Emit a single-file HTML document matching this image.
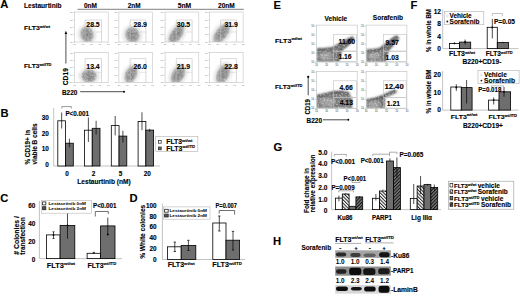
<!DOCTYPE html>
<html><head><meta charset="utf-8"><title>Figure</title>
<style>
html,body{margin:0;padding:0;background:#fff;width:520px;height:296px;overflow:hidden}
svg{display:block}
.tk{stroke:none;fill:#333;font-weight:normal}
.tk2{stroke:none;fill:#777;font-weight:normal}
text{font-family:"Liberation Sans",sans-serif;font-weight:bold;fill:#000;stroke:#000;stroke-width:0.12px;paint-order:stroke}
</style></head><body>
<svg width="520" height="296" viewBox="0 0 520 296">
<defs>
<radialGradient id="gblob"><stop offset="0" stop-color="#7a7a7a"/><stop offset="0.6" stop-color="#8e8e8e"/><stop offset="0.9" stop-color="#a8a8a8" stop-opacity="0.8"/><stop offset="1" stop-color="#c8c8c8" stop-opacity="0.4"/></radialGradient>
<filter id="blur1" x="-50%" y="-50%" width="200%" height="200%"><feGaussianBlur stdDeviation="0.8"/></filter>
<filter id="blur05" x="-20%" y="-50%" width="140%" height="200%"><feGaussianBlur stdDeviation="0.5"/></filter>
<filter id="grain" x="-30%" y="-30%" width="160%" height="160%"><feGaussianBlur in="SourceGraphic" stdDeviation="0.7" result="b"/><feTurbulence type="fractalNoise" baseFrequency="0.6" numOctaves="2" seed="7" result="n"/><feColorMatrix in="n" type="matrix" values="0 0 0 0 0  0 0 0 0 0  0 0 0 0 0  0 0 0 1.3 0.2" result="na"/><feComposite in="b" in2="na" operator="in" result="g"/><feGaussianBlur in="g" stdDeviation="0.3" result="g2"/><feMerge><feMergeNode in="g2"/></feMerge></filter>
<filter id="grainE" x="-10%" y="-10%" width="120%" height="120%"><feGaussianBlur in="SourceGraphic" stdDeviation="0.8" result="b"/><feTurbulence type="fractalNoise" baseFrequency="0.55" numOctaves="2" seed="3" result="n"/><feColorMatrix in="n" type="matrix" values="0 0 0 0 0  0 0 0 0 0  0 0 0 0 0  0 0 0 1.1 0.4" result="na"/><feComposite in="b" in2="na" operator="in" result="g"/><feGaussianBlur in="g" stdDeviation="0.3"/></filter>
<filter id="blur2" x="-20%" y="-20%" width="140%" height="140%"><feGaussianBlur stdDeviation="1.1"/></filter>
<pattern id="hl" width="2.4" height="2.4" patternUnits="userSpaceOnUse" patternTransform="rotate(-45)"><rect width="2.4" height="2.4" fill="#fff"/><rect width="1.0" height="2.4" fill="#222"/></pattern>
<pattern id="hd" width="2.4" height="2.4" patternUnits="userSpaceOnUse" patternTransform="rotate(45)"><rect width="2.4" height="2.4" fill="#777"/><rect width="1.0" height="2.4" fill="#111"/></pattern>
</defs>
<rect width="520" height="296" fill="#fff"/>
<text x="0.30" y="8.30" font-size="11.2">A</text>
<text x="0.50" y="117.20" font-size="11.2">B</text>
<text x="0.30" y="201.60" font-size="11.2">C</text>
<text x="129.40" y="201.50" font-size="11.2">D</text>
<text x="273.60" y="9.20" font-size="11.2">E</text>
<text x="410.60" y="9.30" font-size="11.2">F</text>
<text x="273.40" y="151.40" font-size="11.2">G</text>
<text x="273.00" y="244.60" font-size="11.2">H</text>
<text x="24.00" y="7.50" font-size="6.6" textLength="37.5" lengthAdjust="spacingAndGlyphs">Lestaurtinib</text>
<text x="84.00" y="7.60" font-size="6.8" textLength="13" lengthAdjust="spacingAndGlyphs">0nM</text>
<text x="127.80" y="7.60" font-size="6.8" textLength="12.8" lengthAdjust="spacingAndGlyphs">2nM</text>
<text x="177.70" y="7.60" font-size="6.8" textLength="13.5" lengthAdjust="spacingAndGlyphs">5nM</text>
<text x="218.00" y="7.60" font-size="6.8" textLength="16.8" lengthAdjust="spacingAndGlyphs">20nM</text>
<line x1="77.50" y1="9.40" x2="243.80" y2="9.40" stroke="#999" stroke-width="1.4"/>
<text x="24.00" y="30.00" font-size="6.2" textLength="26" lengthAdjust="spacingAndGlyphs">FLT3<tspan font-size="3.72" dy="-2.36">wt/wt</tspan></text>
<text x="24.00" y="68.40" font-size="6.2" textLength="27.5" lengthAdjust="spacingAndGlyphs">FLT3<tspan font-size="3.72" dy="-2.36">wt/ITD</tspan></text>
<clipPath id="cA00"><rect x="74.50" y="12.00" width="33.7" height="30"/></clipPath><g clip-path="url(#cA00)">
<ellipse cx="87.00" cy="34.50" rx="9.42" ry="10.14" transform="rotate(-15 87.00 34.50)" fill="#dedede" opacity="0.75" filter="url(#blur1)"/>
<ellipse cx="87.00" cy="34.50" rx="7.02" ry="8.42" transform="rotate(-15 87.00 34.50)" fill="url(#gblob)" filter="url(#grain)"/>
</g>
<rect x="74.50" y="12.00" width="33.70" height="30.00" fill="none" stroke="#c4c4c4" stroke-width="0.6"/>
<line x1="73.10" y1="12.50" x2="74.50" y2="12.50" stroke="#c8c8c8" stroke-width="0.5"/>
<text x="72.70" y="13.30" font-size="2.4" text-anchor="end" class="tk2">10</text>
<line x1="74.50" y1="42.00" x2="74.50" y2="43.00" stroke="#c8c8c8" stroke-width="0.5"/>
<text x="74.50" y="45.20" font-size="2.4" text-anchor="middle" class="tk2">10</text>
<line x1="73.10" y1="19.88" x2="74.50" y2="19.88" stroke="#c8c8c8" stroke-width="0.5"/>
<text x="72.70" y="20.68" font-size="2.4" text-anchor="end" class="tk2">10</text>
<line x1="82.92" y1="42.00" x2="82.92" y2="43.00" stroke="#c8c8c8" stroke-width="0.5"/>
<text x="82.92" y="45.20" font-size="2.4" text-anchor="middle" class="tk2">10</text>
<line x1="73.10" y1="27.25" x2="74.50" y2="27.25" stroke="#c8c8c8" stroke-width="0.5"/>
<text x="72.70" y="28.05" font-size="2.4" text-anchor="end" class="tk2">10</text>
<line x1="91.35" y1="42.00" x2="91.35" y2="43.00" stroke="#c8c8c8" stroke-width="0.5"/>
<text x="91.35" y="45.20" font-size="2.4" text-anchor="middle" class="tk2">10</text>
<line x1="73.10" y1="34.62" x2="74.50" y2="34.62" stroke="#c8c8c8" stroke-width="0.5"/>
<text x="72.70" y="35.42" font-size="2.4" text-anchor="end" class="tk2">10</text>
<line x1="99.78" y1="42.00" x2="99.78" y2="43.00" stroke="#c8c8c8" stroke-width="0.5"/>
<text x="99.78" y="45.20" font-size="2.4" text-anchor="middle" class="tk2">10</text>
<line x1="73.10" y1="42.00" x2="74.50" y2="42.00" stroke="#c8c8c8" stroke-width="0.5"/>
<text x="72.70" y="42.80" font-size="2.4" text-anchor="end" class="tk2">10</text>
<line x1="108.20" y1="42.00" x2="108.20" y2="43.00" stroke="#c8c8c8" stroke-width="0.5"/>
<text x="108.20" y="45.20" font-size="2.4" text-anchor="middle" class="tk2">10</text>
<polyline points="85.10,42.00 85.10,20.00 101.50,20.00 101.50,42.00" fill="none" stroke="#c0c0c0" stroke-width="0.6"/>
<line x1="95.50" y1="32.00" x2="101.50" y2="32.00" stroke="#c8c8c8" stroke-width="0.5"/>
<text x="86.30" y="27.00" font-size="7.3" textLength="13.4" lengthAdjust="spacingAndGlyphs">28.5</text>
<clipPath id="cA01"><rect x="118.90" y="12.00" width="33.7" height="30"/></clipPath><g clip-path="url(#cA01)">
<ellipse cx="132.40" cy="35.00" rx="10.15" ry="10.14" transform="rotate(-15 132.40 35.00)" fill="#dedede" opacity="0.75" filter="url(#blur1)"/>
<ellipse cx="132.40" cy="35.00" rx="7.56" ry="8.42" transform="rotate(-15 132.40 35.00)" fill="url(#gblob)" filter="url(#grain)"/>
</g>
<rect x="118.90" y="12.00" width="33.70" height="30.00" fill="none" stroke="#c4c4c4" stroke-width="0.6"/>
<line x1="117.50" y1="12.50" x2="118.90" y2="12.50" stroke="#c8c8c8" stroke-width="0.5"/>
<text x="117.10" y="13.30" font-size="2.4" text-anchor="end" class="tk2">10</text>
<line x1="118.90" y1="42.00" x2="118.90" y2="43.00" stroke="#c8c8c8" stroke-width="0.5"/>
<text x="118.90" y="45.20" font-size="2.4" text-anchor="middle" class="tk2">10</text>
<line x1="117.50" y1="19.88" x2="118.90" y2="19.88" stroke="#c8c8c8" stroke-width="0.5"/>
<text x="117.10" y="20.68" font-size="2.4" text-anchor="end" class="tk2">10</text>
<line x1="127.33" y1="42.00" x2="127.33" y2="43.00" stroke="#c8c8c8" stroke-width="0.5"/>
<text x="127.33" y="45.20" font-size="2.4" text-anchor="middle" class="tk2">10</text>
<line x1="117.50" y1="27.25" x2="118.90" y2="27.25" stroke="#c8c8c8" stroke-width="0.5"/>
<text x="117.10" y="28.05" font-size="2.4" text-anchor="end" class="tk2">10</text>
<line x1="135.75" y1="42.00" x2="135.75" y2="43.00" stroke="#c8c8c8" stroke-width="0.5"/>
<text x="135.75" y="45.20" font-size="2.4" text-anchor="middle" class="tk2">10</text>
<line x1="117.50" y1="34.62" x2="118.90" y2="34.62" stroke="#c8c8c8" stroke-width="0.5"/>
<text x="117.10" y="35.42" font-size="2.4" text-anchor="end" class="tk2">10</text>
<line x1="144.18" y1="42.00" x2="144.18" y2="43.00" stroke="#c8c8c8" stroke-width="0.5"/>
<text x="144.18" y="45.20" font-size="2.4" text-anchor="middle" class="tk2">10</text>
<line x1="117.50" y1="42.00" x2="118.90" y2="42.00" stroke="#c8c8c8" stroke-width="0.5"/>
<text x="117.10" y="42.80" font-size="2.4" text-anchor="end" class="tk2">10</text>
<line x1="152.60" y1="42.00" x2="152.60" y2="43.00" stroke="#c8c8c8" stroke-width="0.5"/>
<text x="152.60" y="45.20" font-size="2.4" text-anchor="middle" class="tk2">10</text>
<polyline points="130.10,42.00 130.10,20.00 145.90,20.00 145.90,42.00" fill="none" stroke="#c0c0c0" stroke-width="0.6"/>
<line x1="139.90" y1="32.00" x2="145.90" y2="32.00" stroke="#c8c8c8" stroke-width="0.5"/>
<text x="133.50" y="27.00" font-size="7.3" textLength="13.4" lengthAdjust="spacingAndGlyphs">28.9</text>
<clipPath id="cA02"><rect x="165.10" y="12.00" width="33.7" height="30"/></clipPath><g clip-path="url(#cA02)">
<ellipse cx="176.40" cy="34.30" rx="8.12" ry="13.65" transform="rotate(35 176.40 34.30)" fill="#dedede" opacity="0.75" filter="url(#blur1)"/>
<ellipse cx="176.40" cy="34.30" rx="6.05" ry="11.34" transform="rotate(35 176.40 34.30)" fill="url(#gblob)" filter="url(#grain)"/>
</g>
<rect x="165.10" y="12.00" width="33.70" height="30.00" fill="none" stroke="#c4c4c4" stroke-width="0.6"/>
<line x1="163.70" y1="12.50" x2="165.10" y2="12.50" stroke="#c8c8c8" stroke-width="0.5"/>
<text x="163.30" y="13.30" font-size="2.4" text-anchor="end" class="tk2">10</text>
<line x1="165.10" y1="42.00" x2="165.10" y2="43.00" stroke="#c8c8c8" stroke-width="0.5"/>
<text x="165.10" y="45.20" font-size="2.4" text-anchor="middle" class="tk2">10</text>
<line x1="163.70" y1="19.88" x2="165.10" y2="19.88" stroke="#c8c8c8" stroke-width="0.5"/>
<text x="163.30" y="20.68" font-size="2.4" text-anchor="end" class="tk2">10</text>
<line x1="173.53" y1="42.00" x2="173.53" y2="43.00" stroke="#c8c8c8" stroke-width="0.5"/>
<text x="173.53" y="45.20" font-size="2.4" text-anchor="middle" class="tk2">10</text>
<line x1="163.70" y1="27.25" x2="165.10" y2="27.25" stroke="#c8c8c8" stroke-width="0.5"/>
<text x="163.30" y="28.05" font-size="2.4" text-anchor="end" class="tk2">10</text>
<line x1="181.95" y1="42.00" x2="181.95" y2="43.00" stroke="#c8c8c8" stroke-width="0.5"/>
<text x="181.95" y="45.20" font-size="2.4" text-anchor="middle" class="tk2">10</text>
<line x1="163.70" y1="34.62" x2="165.10" y2="34.62" stroke="#c8c8c8" stroke-width="0.5"/>
<text x="163.30" y="35.42" font-size="2.4" text-anchor="end" class="tk2">10</text>
<line x1="190.38" y1="42.00" x2="190.38" y2="43.00" stroke="#c8c8c8" stroke-width="0.5"/>
<text x="190.38" y="45.20" font-size="2.4" text-anchor="middle" class="tk2">10</text>
<line x1="163.70" y1="42.00" x2="165.10" y2="42.00" stroke="#c8c8c8" stroke-width="0.5"/>
<text x="163.30" y="42.80" font-size="2.4" text-anchor="end" class="tk2">10</text>
<line x1="198.80" y1="42.00" x2="198.80" y2="43.00" stroke="#c8c8c8" stroke-width="0.5"/>
<text x="198.80" y="45.20" font-size="2.4" text-anchor="middle" class="tk2">10</text>
<polyline points="176.30,42.00 176.30,20.00 192.10,20.00 192.10,42.00" fill="none" stroke="#c0c0c0" stroke-width="0.6"/>
<line x1="186.10" y1="32.00" x2="192.10" y2="32.00" stroke="#c8c8c8" stroke-width="0.5"/>
<text x="176.80" y="27.00" font-size="7.3" textLength="13.4" lengthAdjust="spacingAndGlyphs">30.5</text>
<clipPath id="cA03"><rect x="209.40" y="12.00" width="33.7" height="30"/></clipPath><g clip-path="url(#cA03)">
<ellipse cx="221.50" cy="33.50" rx="8.41" ry="14.30" transform="rotate(38 221.50 33.50)" fill="#dedede" opacity="0.75" filter="url(#blur1)"/>
<ellipse cx="221.50" cy="33.50" rx="6.26" ry="11.88" transform="rotate(38 221.50 33.50)" fill="url(#gblob)" filter="url(#grain)"/>
</g>
<rect x="209.40" y="12.00" width="33.70" height="30.00" fill="none" stroke="#c4c4c4" stroke-width="0.6"/>
<line x1="208.00" y1="12.50" x2="209.40" y2="12.50" stroke="#c8c8c8" stroke-width="0.5"/>
<text x="207.60" y="13.30" font-size="2.4" text-anchor="end" class="tk2">10</text>
<line x1="209.40" y1="42.00" x2="209.40" y2="43.00" stroke="#c8c8c8" stroke-width="0.5"/>
<text x="209.40" y="45.20" font-size="2.4" text-anchor="middle" class="tk2">10</text>
<line x1="208.00" y1="19.88" x2="209.40" y2="19.88" stroke="#c8c8c8" stroke-width="0.5"/>
<text x="207.60" y="20.68" font-size="2.4" text-anchor="end" class="tk2">10</text>
<line x1="217.83" y1="42.00" x2="217.83" y2="43.00" stroke="#c8c8c8" stroke-width="0.5"/>
<text x="217.83" y="45.20" font-size="2.4" text-anchor="middle" class="tk2">10</text>
<line x1="208.00" y1="27.25" x2="209.40" y2="27.25" stroke="#c8c8c8" stroke-width="0.5"/>
<text x="207.60" y="28.05" font-size="2.4" text-anchor="end" class="tk2">10</text>
<line x1="226.25" y1="42.00" x2="226.25" y2="43.00" stroke="#c8c8c8" stroke-width="0.5"/>
<text x="226.25" y="45.20" font-size="2.4" text-anchor="middle" class="tk2">10</text>
<line x1="208.00" y1="34.62" x2="209.40" y2="34.62" stroke="#c8c8c8" stroke-width="0.5"/>
<text x="207.60" y="35.42" font-size="2.4" text-anchor="end" class="tk2">10</text>
<line x1="234.68" y1="42.00" x2="234.68" y2="43.00" stroke="#c8c8c8" stroke-width="0.5"/>
<text x="234.68" y="45.20" font-size="2.4" text-anchor="middle" class="tk2">10</text>
<line x1="208.00" y1="42.00" x2="209.40" y2="42.00" stroke="#c8c8c8" stroke-width="0.5"/>
<text x="207.60" y="42.80" font-size="2.4" text-anchor="end" class="tk2">10</text>
<line x1="243.10" y1="42.00" x2="243.10" y2="43.00" stroke="#c8c8c8" stroke-width="0.5"/>
<text x="243.10" y="45.20" font-size="2.4" text-anchor="middle" class="tk2">10</text>
<polyline points="220.70,42.00 220.70,20.00 236.40,20.00 236.40,42.00" fill="none" stroke="#c0c0c0" stroke-width="0.6"/>
<line x1="230.40" y1="32.00" x2="236.40" y2="32.00" stroke="#c8c8c8" stroke-width="0.5"/>
<text x="224.40" y="27.00" font-size="7.3" textLength="13.4" lengthAdjust="spacingAndGlyphs">31.9</text>
<clipPath id="cA10"><rect x="74.50" y="52.30" width="33.7" height="30"/></clipPath><g clip-path="url(#cA10)">
<ellipse cx="89.00" cy="76.00" rx="10.88" ry="8.45" transform="rotate(0 89.00 76.00)" fill="#dedede" opacity="0.75" filter="url(#blur1)"/>
<ellipse cx="89.00" cy="76.00" rx="8.10" ry="7.02" transform="rotate(0 89.00 76.00)" fill="url(#gblob)" filter="url(#grain)"/>
</g>
<rect x="74.50" y="52.30" width="33.70" height="30.00" fill="none" stroke="#c4c4c4" stroke-width="0.6"/>
<line x1="73.10" y1="52.80" x2="74.50" y2="52.80" stroke="#c8c8c8" stroke-width="0.5"/>
<text x="72.70" y="53.60" font-size="2.4" text-anchor="end" class="tk2">10</text>
<line x1="74.50" y1="82.30" x2="74.50" y2="83.30" stroke="#c8c8c8" stroke-width="0.5"/>
<text x="74.50" y="85.50" font-size="2.4" text-anchor="middle" class="tk2">10</text>
<line x1="73.10" y1="60.17" x2="74.50" y2="60.17" stroke="#c8c8c8" stroke-width="0.5"/>
<text x="72.70" y="60.97" font-size="2.4" text-anchor="end" class="tk2">10</text>
<line x1="82.92" y1="82.30" x2="82.92" y2="83.30" stroke="#c8c8c8" stroke-width="0.5"/>
<text x="82.92" y="85.50" font-size="2.4" text-anchor="middle" class="tk2">10</text>
<line x1="73.10" y1="67.55" x2="74.50" y2="67.55" stroke="#c8c8c8" stroke-width="0.5"/>
<text x="72.70" y="68.35" font-size="2.4" text-anchor="end" class="tk2">10</text>
<line x1="91.35" y1="82.30" x2="91.35" y2="83.30" stroke="#c8c8c8" stroke-width="0.5"/>
<text x="91.35" y="85.50" font-size="2.4" text-anchor="middle" class="tk2">10</text>
<line x1="73.10" y1="74.92" x2="74.50" y2="74.92" stroke="#c8c8c8" stroke-width="0.5"/>
<text x="72.70" y="75.72" font-size="2.4" text-anchor="end" class="tk2">10</text>
<line x1="99.78" y1="82.30" x2="99.78" y2="83.30" stroke="#c8c8c8" stroke-width="0.5"/>
<text x="99.78" y="85.50" font-size="2.4" text-anchor="middle" class="tk2">10</text>
<line x1="73.10" y1="82.30" x2="74.50" y2="82.30" stroke="#c8c8c8" stroke-width="0.5"/>
<text x="72.70" y="83.10" font-size="2.4" text-anchor="end" class="tk2">10</text>
<line x1="108.20" y1="82.30" x2="108.20" y2="83.30" stroke="#c8c8c8" stroke-width="0.5"/>
<text x="108.20" y="85.50" font-size="2.4" text-anchor="middle" class="tk2">10</text>
<polyline points="85.10,82.30 85.10,58.60 101.50,58.60 101.50,82.30" fill="none" stroke="#c0c0c0" stroke-width="0.6"/>
<line x1="95.50" y1="72.30" x2="101.50" y2="72.30" stroke="#c8c8c8" stroke-width="0.5"/>
<text x="86.30" y="68.70" font-size="7.3" textLength="13.4" lengthAdjust="spacingAndGlyphs">13.4</text>
<clipPath id="cA11"><rect x="118.90" y="52.30" width="33.7" height="30"/></clipPath><g clip-path="url(#cA11)">
<ellipse cx="131.00" cy="74.50" rx="8.12" ry="11.70" transform="rotate(25 131.00 74.50)" fill="#dedede" opacity="0.75" filter="url(#blur1)"/>
<ellipse cx="131.00" cy="74.50" rx="6.05" ry="9.72" transform="rotate(25 131.00 74.50)" fill="url(#gblob)" filter="url(#grain)"/>
</g>
<rect x="118.90" y="52.30" width="33.70" height="30.00" fill="none" stroke="#c4c4c4" stroke-width="0.6"/>
<line x1="117.50" y1="52.80" x2="118.90" y2="52.80" stroke="#c8c8c8" stroke-width="0.5"/>
<text x="117.10" y="53.60" font-size="2.4" text-anchor="end" class="tk2">10</text>
<line x1="118.90" y1="82.30" x2="118.90" y2="83.30" stroke="#c8c8c8" stroke-width="0.5"/>
<text x="118.90" y="85.50" font-size="2.4" text-anchor="middle" class="tk2">10</text>
<line x1="117.50" y1="60.17" x2="118.90" y2="60.17" stroke="#c8c8c8" stroke-width="0.5"/>
<text x="117.10" y="60.97" font-size="2.4" text-anchor="end" class="tk2">10</text>
<line x1="127.33" y1="82.30" x2="127.33" y2="83.30" stroke="#c8c8c8" stroke-width="0.5"/>
<text x="127.33" y="85.50" font-size="2.4" text-anchor="middle" class="tk2">10</text>
<line x1="117.50" y1="67.55" x2="118.90" y2="67.55" stroke="#c8c8c8" stroke-width="0.5"/>
<text x="117.10" y="68.35" font-size="2.4" text-anchor="end" class="tk2">10</text>
<line x1="135.75" y1="82.30" x2="135.75" y2="83.30" stroke="#c8c8c8" stroke-width="0.5"/>
<text x="135.75" y="85.50" font-size="2.4" text-anchor="middle" class="tk2">10</text>
<line x1="117.50" y1="74.92" x2="118.90" y2="74.92" stroke="#c8c8c8" stroke-width="0.5"/>
<text x="117.10" y="75.72" font-size="2.4" text-anchor="end" class="tk2">10</text>
<line x1="144.18" y1="82.30" x2="144.18" y2="83.30" stroke="#c8c8c8" stroke-width="0.5"/>
<text x="144.18" y="85.50" font-size="2.4" text-anchor="middle" class="tk2">10</text>
<line x1="117.50" y1="82.30" x2="118.90" y2="82.30" stroke="#c8c8c8" stroke-width="0.5"/>
<text x="117.10" y="83.10" font-size="2.4" text-anchor="end" class="tk2">10</text>
<line x1="152.60" y1="82.30" x2="152.60" y2="83.30" stroke="#c8c8c8" stroke-width="0.5"/>
<text x="152.60" y="85.50" font-size="2.4" text-anchor="middle" class="tk2">10</text>
<polyline points="130.10,82.30 130.10,58.60 145.90,58.60 145.90,82.30" fill="none" stroke="#c0c0c0" stroke-width="0.6"/>
<line x1="139.90" y1="72.30" x2="145.90" y2="72.30" stroke="#c8c8c8" stroke-width="0.5"/>
<text x="133.50" y="68.70" font-size="7.3" textLength="13.4" lengthAdjust="spacingAndGlyphs">26.0</text>
<clipPath id="cA12"><rect x="165.10" y="52.30" width="33.7" height="30"/></clipPath><g clip-path="url(#cA12)">
<ellipse cx="178.00" cy="75.00" rx="8.70" ry="12.35" transform="rotate(30 178.00 75.00)" fill="#dedede" opacity="0.75" filter="url(#blur1)"/>
<ellipse cx="178.00" cy="75.00" rx="6.48" ry="10.26" transform="rotate(30 178.00 75.00)" fill="url(#gblob)" filter="url(#grain)"/>
</g>
<rect x="165.10" y="52.30" width="33.70" height="30.00" fill="none" stroke="#c4c4c4" stroke-width="0.6"/>
<line x1="163.70" y1="52.80" x2="165.10" y2="52.80" stroke="#c8c8c8" stroke-width="0.5"/>
<text x="163.30" y="53.60" font-size="2.4" text-anchor="end" class="tk2">10</text>
<line x1="165.10" y1="82.30" x2="165.10" y2="83.30" stroke="#c8c8c8" stroke-width="0.5"/>
<text x="165.10" y="85.50" font-size="2.4" text-anchor="middle" class="tk2">10</text>
<line x1="163.70" y1="60.17" x2="165.10" y2="60.17" stroke="#c8c8c8" stroke-width="0.5"/>
<text x="163.30" y="60.97" font-size="2.4" text-anchor="end" class="tk2">10</text>
<line x1="173.53" y1="82.30" x2="173.53" y2="83.30" stroke="#c8c8c8" stroke-width="0.5"/>
<text x="173.53" y="85.50" font-size="2.4" text-anchor="middle" class="tk2">10</text>
<line x1="163.70" y1="67.55" x2="165.10" y2="67.55" stroke="#c8c8c8" stroke-width="0.5"/>
<text x="163.30" y="68.35" font-size="2.4" text-anchor="end" class="tk2">10</text>
<line x1="181.95" y1="82.30" x2="181.95" y2="83.30" stroke="#c8c8c8" stroke-width="0.5"/>
<text x="181.95" y="85.50" font-size="2.4" text-anchor="middle" class="tk2">10</text>
<line x1="163.70" y1="74.92" x2="165.10" y2="74.92" stroke="#c8c8c8" stroke-width="0.5"/>
<text x="163.30" y="75.72" font-size="2.4" text-anchor="end" class="tk2">10</text>
<line x1="190.38" y1="82.30" x2="190.38" y2="83.30" stroke="#c8c8c8" stroke-width="0.5"/>
<text x="190.38" y="85.50" font-size="2.4" text-anchor="middle" class="tk2">10</text>
<line x1="163.70" y1="82.30" x2="165.10" y2="82.30" stroke="#c8c8c8" stroke-width="0.5"/>
<text x="163.30" y="83.10" font-size="2.4" text-anchor="end" class="tk2">10</text>
<line x1="198.80" y1="82.30" x2="198.80" y2="83.30" stroke="#c8c8c8" stroke-width="0.5"/>
<text x="198.80" y="85.50" font-size="2.4" text-anchor="middle" class="tk2">10</text>
<polyline points="176.30,82.30 176.30,58.60 192.10,58.60 192.10,82.30" fill="none" stroke="#c0c0c0" stroke-width="0.6"/>
<line x1="186.10" y1="72.30" x2="192.10" y2="72.30" stroke="#c8c8c8" stroke-width="0.5"/>
<text x="176.80" y="68.70" font-size="7.3" textLength="13.4" lengthAdjust="spacingAndGlyphs">21.9</text>
<clipPath id="cA13"><rect x="209.40" y="52.30" width="33.7" height="30"/></clipPath><g clip-path="url(#cA13)">
<ellipse cx="223.00" cy="74.00" rx="8.70" ry="13.00" transform="rotate(25 223.00 74.00)" fill="#dedede" opacity="0.75" filter="url(#blur1)"/>
<ellipse cx="223.00" cy="74.00" rx="6.48" ry="10.80" transform="rotate(25 223.00 74.00)" fill="url(#gblob)" filter="url(#grain)"/>
</g>
<rect x="209.40" y="52.30" width="33.70" height="30.00" fill="none" stroke="#c4c4c4" stroke-width="0.6"/>
<line x1="208.00" y1="52.80" x2="209.40" y2="52.80" stroke="#c8c8c8" stroke-width="0.5"/>
<text x="207.60" y="53.60" font-size="2.4" text-anchor="end" class="tk2">10</text>
<line x1="209.40" y1="82.30" x2="209.40" y2="83.30" stroke="#c8c8c8" stroke-width="0.5"/>
<text x="209.40" y="85.50" font-size="2.4" text-anchor="middle" class="tk2">10</text>
<line x1="208.00" y1="60.17" x2="209.40" y2="60.17" stroke="#c8c8c8" stroke-width="0.5"/>
<text x="207.60" y="60.97" font-size="2.4" text-anchor="end" class="tk2">10</text>
<line x1="217.83" y1="82.30" x2="217.83" y2="83.30" stroke="#c8c8c8" stroke-width="0.5"/>
<text x="217.83" y="85.50" font-size="2.4" text-anchor="middle" class="tk2">10</text>
<line x1="208.00" y1="67.55" x2="209.40" y2="67.55" stroke="#c8c8c8" stroke-width="0.5"/>
<text x="207.60" y="68.35" font-size="2.4" text-anchor="end" class="tk2">10</text>
<line x1="226.25" y1="82.30" x2="226.25" y2="83.30" stroke="#c8c8c8" stroke-width="0.5"/>
<text x="226.25" y="85.50" font-size="2.4" text-anchor="middle" class="tk2">10</text>
<line x1="208.00" y1="74.92" x2="209.40" y2="74.92" stroke="#c8c8c8" stroke-width="0.5"/>
<text x="207.60" y="75.72" font-size="2.4" text-anchor="end" class="tk2">10</text>
<line x1="234.68" y1="82.30" x2="234.68" y2="83.30" stroke="#c8c8c8" stroke-width="0.5"/>
<text x="234.68" y="85.50" font-size="2.4" text-anchor="middle" class="tk2">10</text>
<line x1="208.00" y1="82.30" x2="209.40" y2="82.30" stroke="#c8c8c8" stroke-width="0.5"/>
<text x="207.60" y="83.10" font-size="2.4" text-anchor="end" class="tk2">10</text>
<line x1="243.10" y1="82.30" x2="243.10" y2="83.30" stroke="#c8c8c8" stroke-width="0.5"/>
<text x="243.10" y="85.50" font-size="2.4" text-anchor="middle" class="tk2">10</text>
<polyline points="220.70,82.30 220.70,58.60 236.40,58.60 236.40,82.30" fill="none" stroke="#c0c0c0" stroke-width="0.6"/>
<line x1="230.40" y1="72.30" x2="236.40" y2="72.30" stroke="#c8c8c8" stroke-width="0.5"/>
<text x="224.40" y="68.70" font-size="7.3" textLength="13.4" lengthAdjust="spacingAndGlyphs">22.8</text>
<line x1="65.90" y1="33.00" x2="65.90" y2="63.50" stroke="#000" stroke-width="0.7"/>
<polygon points="65.9,30.8 64.6,34 67.2,34" fill="#000"/>
<text x="67.60" y="76.70" font-size="6.4" text-anchor="middle" textLength="17.2" lengthAdjust="spacingAndGlyphs" transform="rotate(-90 67.6 76.7)">CD19</text>
<text x="62.00" y="95.30" font-size="6.4" textLength="15.3" lengthAdjust="spacingAndGlyphs">B220</text>
<line x1="80.20" y1="91.70" x2="123.50" y2="91.70" stroke="#000" stroke-width="0.7"/>
<circle cx="124" cy="91.7" r="1" fill="#000"/>
<line x1="53.70" y1="108.00" x2="53.70" y2="166.00" stroke="#b4b4b4" stroke-width="0.8"/>
<line x1="53.70" y1="166.00" x2="160.00" y2="166.00" stroke="#b4b4b4" stroke-width="0.8"/>
<text x="48.80" y="167.30" font-size="6.4" text-anchor="end">0</text>
<text x="48.80" y="151.43" font-size="6.4" text-anchor="end">10</text>
<text x="48.80" y="135.56" font-size="6.4" text-anchor="end">20</text>
<text x="48.80" y="119.69" font-size="6.4" text-anchor="end">30</text>
<rect x="57.80" y="120.80" width="7.75" height="45.20" fill="#fff" stroke="#000" stroke-width="0.8"/>
<rect x="65.55" y="143.20" width="7.75" height="22.80" fill="#6e6e6e" stroke="#000" stroke-width="0.8"/>
<line x1="61.67" y1="112.50" x2="61.67" y2="128.50" stroke="#000" stroke-width="0.7"/>
<line x1="69.42" y1="138.70" x2="69.42" y2="147.30" stroke="#000" stroke-width="0.7"/>
<rect x="84.50" y="130.20" width="7.75" height="35.80" fill="#fff" stroke="#000" stroke-width="0.8"/>
<rect x="92.25" y="128.30" width="7.75" height="37.70" fill="#6e6e6e" stroke="#000" stroke-width="0.8"/>
<line x1="88.38" y1="117.50" x2="88.38" y2="142.00" stroke="#000" stroke-width="0.7"/>
<line x1="96.12" y1="120.80" x2="96.12" y2="134.50" stroke="#000" stroke-width="0.7"/>
<rect x="111.30" y="125.60" width="7.75" height="40.40" fill="#fff" stroke="#000" stroke-width="0.8"/>
<rect x="119.05" y="136.10" width="7.75" height="29.90" fill="#6e6e6e" stroke="#000" stroke-width="0.8"/>
<line x1="115.17" y1="116.00" x2="115.17" y2="135.40" stroke="#000" stroke-width="0.7"/>
<line x1="122.92" y1="130.70" x2="122.92" y2="142.50" stroke="#000" stroke-width="0.7"/>
<rect x="138.10" y="121.40" width="7.75" height="44.60" fill="#fff" stroke="#000" stroke-width="0.8"/>
<rect x="145.85" y="130.10" width="7.75" height="35.90" fill="#6e6e6e" stroke="#000" stroke-width="0.8"/>
<line x1="141.97" y1="112.30" x2="141.97" y2="130.20" stroke="#000" stroke-width="0.7"/>
<line x1="149.72" y1="128.80" x2="149.72" y2="131.90" stroke="#000" stroke-width="0.7"/>
<text x="67.00" y="175.80" font-size="6.4" text-anchor="middle">0</text>
<text x="93.60" y="175.80" font-size="6.4" text-anchor="middle">2</text>
<text x="120.60" y="175.80" font-size="6.4" text-anchor="middle">5</text>
<text x="147.30" y="175.80" font-size="6.4" text-anchor="middle">20</text>
<text x="77.30" y="183.50" font-size="6.6" textLength="53.4" lengthAdjust="spacingAndGlyphs">Lestaurtinib (nM)</text>
<polyline points="61.80,108.50 61.80,106.60 71.30,106.60 71.30,108.50" fill="none" stroke="#555" stroke-width="0.6"/>
<text x="65.40" y="116.00" font-size="6.4" textLength="23.6" lengthAdjust="spacingAndGlyphs">P&lt;0.001</text>
<text x="30.00" y="147.20" font-size="6.6" text-anchor="middle" textLength="34.6" lengthAdjust="spacingAndGlyphs" transform="rotate(-90 30.0 147.2)">% CD19+ in</text>
<text x="37.20" y="144.00" font-size="6.6" text-anchor="middle" textLength="41" lengthAdjust="spacingAndGlyphs" transform="rotate(-90 37.2 144.0)">viable B cells</text>
<rect x="155.70" y="136.40" width="42.10" height="15.20" fill="#fff" stroke="#b0b0b0" stroke-width="0.6"/>
<rect x="158.40" y="140.40" width="2.80" height="2.80" fill="#fff" stroke="#222" stroke-width="0.7"/>
<rect x="158.40" y="147.00" width="2.80" height="2.80" fill="#6e6e6e" stroke="#222" stroke-width="0.7"/>
<text x="166.30" y="144.40" font-size="6.3" textLength="26" lengthAdjust="spacingAndGlyphs">FLT3<tspan font-size="3.78" dy="-2.39">wt/wt</tspan></text>
<text x="166.30" y="150.60" font-size="6.3" textLength="28.7" lengthAdjust="spacingAndGlyphs">FLT3<tspan font-size="3.78" dy="-2.39">wt/ITD</tspan></text>
<line x1="39.40" y1="201.00" x2="39.40" y2="258.60" stroke="#b4b4b4" stroke-width="0.8"/>
<line x1="39.40" y1="258.60" x2="122.00" y2="258.60" stroke="#b4b4b4" stroke-width="0.8"/>
<text x="35.30" y="261.60" font-size="6.4" text-anchor="end">0</text>
<text x="35.30" y="243.66" font-size="6.4" text-anchor="end">20</text>
<text x="35.30" y="225.72" font-size="6.4" text-anchor="end">40</text>
<text x="35.30" y="207.78" font-size="6.4" text-anchor="end">60</text>
<rect x="46.40" y="234.90" width="13.70" height="23.70" fill="#fff" stroke="#000" stroke-width="0.8"/>
<rect x="60.10" y="225.40" width="14.70" height="33.20" fill="#6e6e6e" stroke="#000" stroke-width="0.8"/>
<rect x="87.10" y="253.30" width="13.50" height="5.30" fill="#fff" stroke="#000" stroke-width="0.8"/>
<rect x="100.60" y="225.90" width="14.40" height="32.70" fill="#6e6e6e" stroke="#000" stroke-width="0.8"/>
<line x1="53.50" y1="231.80" x2="53.50" y2="238.50" stroke="#000" stroke-width="0.7"/>
<line x1="52.50" y1="231.80" x2="54.50" y2="231.80" stroke="#000" stroke-width="0.7"/>
<line x1="52.50" y1="238.50" x2="54.50" y2="238.50" stroke="#000" stroke-width="0.7"/>
<circle cx="53.50" cy="234.90" r="0.9" fill="#000"/>
<line x1="67.50" y1="212.80" x2="67.50" y2="238.80" stroke="#000" stroke-width="0.7"/>
<circle cx="67.50" cy="225.40" r="0.9" fill="#000"/>
<line x1="93.80" y1="252.30" x2="93.80" y2="253.30" stroke="#000" stroke-width="0.7"/>
<line x1="92.80" y1="252.30" x2="94.80" y2="252.30" stroke="#000" stroke-width="0.7"/>
<line x1="92.80" y1="253.30" x2="94.80" y2="253.30" stroke="#000" stroke-width="0.7"/>
<line x1="107.80" y1="217.50" x2="107.80" y2="235.20" stroke="#000" stroke-width="0.7"/>
<circle cx="107.80" cy="234.50" r="0.9" fill="#000"/>
<text x="46.80" y="267.50" font-size="6.9" textLength="28.3" lengthAdjust="spacingAndGlyphs">FLT3<tspan font-size="4.14" dy="-2.62">wt/wt</tspan></text>
<text x="87.40" y="267.70" font-size="6.9" textLength="28.8" lengthAdjust="spacingAndGlyphs">FLT3<tspan font-size="4.14" dy="-2.62">wt/ITD</tspan></text>
<text x="93.00" y="208.20" font-size="6.4" textLength="23.5" lengthAdjust="spacingAndGlyphs">P&lt;0.001</text>
<polyline points="95.3,216.5 95.3,211.5 108.3,211.5 108.3,214" fill="none" stroke="#333" stroke-width="0.7"/>
<text x="19.20" y="235.40" font-size="6.6" text-anchor="middle" textLength="38.7" lengthAdjust="spacingAndGlyphs" transform="rotate(-90 19.2 235.4)"># Colonies /</text>
<text x="25.30" y="236.00" font-size="6.4" text-anchor="middle" textLength="37.5" lengthAdjust="spacingAndGlyphs" transform="rotate(-90 25.3 236.0)">transfection</text>
<rect x="41.60" y="200.40" width="49.90" height="12.80" fill="#fff" stroke="#b8b8b8" stroke-width="0.6"/>
<rect x="42.60" y="201.90" width="3.20" height="3.00" fill="#fff" stroke="#222" stroke-width="0.8"/>
<rect x="42.60" y="206.70" width="3.20" height="3.00" fill="#555" stroke="#222" stroke-width="0.8"/>
<text x="48.50" y="204.60" font-size="4.3" textLength="37.4" lengthAdjust="spacingAndGlyphs" style="stroke:none">Lestaurtinib 0nM</text>
<text x="48.50" y="209.70" font-size="4.3" textLength="37.4" lengthAdjust="spacingAndGlyphs" style="stroke:none">Lestaurtinib 2nM</text>
<line x1="162.40" y1="203.50" x2="162.40" y2="259.50" stroke="#b4b4b4" stroke-width="0.8"/>
<line x1="162.40" y1="259.50" x2="245.00" y2="259.50" stroke="#b4b4b4" stroke-width="0.8"/>
<text x="156.60" y="261.60" font-size="6.4" text-anchor="end">0</text>
<text x="156.60" y="250.86" font-size="6.4" text-anchor="end">20</text>
<text x="156.60" y="240.12" font-size="6.4" text-anchor="end">40</text>
<text x="156.60" y="229.38" font-size="6.4" text-anchor="end">60</text>
<text x="156.60" y="218.64" font-size="6.4" text-anchor="end">80</text>
<text x="156.60" y="207.90" font-size="6.4" text-anchor="end">100</text>
<rect x="167.40" y="246.80" width="13.80" height="12.70" fill="#fff" stroke="#000" stroke-width="0.8"/>
<rect x="181.20" y="245.40" width="14.60" height="14.10" fill="#6e6e6e" stroke="#000" stroke-width="0.8"/>
<rect x="212.80" y="223.00" width="13.20" height="36.50" fill="#fff" stroke="#000" stroke-width="0.8"/>
<rect x="226.00" y="240.20" width="13.60" height="19.30" fill="#6e6e6e" stroke="#000" stroke-width="0.8"/>
<line x1="174.80" y1="242.10" x2="174.80" y2="251.50" stroke="#000" stroke-width="0.7"/>
<line x1="173.60" y1="242.10" x2="176.00" y2="242.10" stroke="#000" stroke-width="0.7"/>
<line x1="173.60" y1="251.50" x2="176.00" y2="251.50" stroke="#000" stroke-width="0.7"/>
<line x1="188.40" y1="240.30" x2="188.40" y2="250.40" stroke="#000" stroke-width="0.7"/>
<line x1="187.20" y1="240.30" x2="189.60" y2="240.30" stroke="#000" stroke-width="0.7"/>
<line x1="187.20" y1="250.40" x2="189.60" y2="250.40" stroke="#000" stroke-width="0.7"/>
<line x1="219.30" y1="216.00" x2="219.30" y2="231.00" stroke="#000" stroke-width="0.7"/>
<line x1="218.10" y1="216.00" x2="220.50" y2="216.00" stroke="#000" stroke-width="0.7"/>
<line x1="218.10" y1="231.00" x2="220.50" y2="231.00" stroke="#000" stroke-width="0.7"/>
<line x1="233.00" y1="231.40" x2="233.00" y2="250.00" stroke="#000" stroke-width="0.7"/>
<line x1="231.80" y1="231.40" x2="234.20" y2="231.40" stroke="#000" stroke-width="0.7"/>
<line x1="231.80" y1="250.00" x2="234.20" y2="250.00" stroke="#000" stroke-width="0.7"/>
<text x="167.70" y="267.40" font-size="6.9" textLength="27" lengthAdjust="spacingAndGlyphs">FLT3<tspan font-size="4.14" dy="-2.62">wt/wt</tspan></text>
<text x="212.30" y="267.40" font-size="6.9" textLength="29.5" lengthAdjust="spacingAndGlyphs">FLT3<tspan font-size="4.14" dy="-2.62">wt/ITD</tspan></text>
<text x="215.50" y="207.60" font-size="6.4" textLength="21.5" lengthAdjust="spacingAndGlyphs">P=0.007</text>
<polyline points="219.2,213.5 219.2,210.5 234.6,210.5 234.6,214.6" fill="none" stroke="#333" stroke-width="0.7"/>
<text x="145.00" y="231.80" font-size="6.3" text-anchor="middle" textLength="54" lengthAdjust="spacingAndGlyphs" transform="rotate(-90 145.0 231.8)">% White colonies</text>
<rect x="163.60" y="206.90" width="46.40" height="12.30" fill="#fff" stroke="#b8b8b8" stroke-width="0.6"/>
<rect x="164.60" y="209.30" width="3.60" height="2.90" fill="#fff" stroke="#222" stroke-width="0.8"/>
<rect x="164.60" y="214.10" width="3.60" height="2.90" fill="#555" stroke="#222" stroke-width="0.8"/>
<text x="169.50" y="211.50" font-size="4.3" textLength="37.5" lengthAdjust="spacingAndGlyphs" style="stroke:none">Lestaurtinib 0nM</text>
<text x="169.50" y="216.60" font-size="4.3" textLength="37.5" lengthAdjust="spacingAndGlyphs" style="stroke:none">Lestaurtinib 2nM</text>
<text x="324.50" y="21.00" font-size="6.6" textLength="22.7" lengthAdjust="spacingAndGlyphs">Vehicle</text>
<text x="372.80" y="20.40" font-size="6.6" textLength="30.2" lengthAdjust="spacingAndGlyphs">Sorafenib</text>
<text x="275.00" y="42.80" font-size="6.2" textLength="27" lengthAdjust="spacingAndGlyphs">FLT3<tspan font-size="3.72" dy="-2.36">wt/wt</tspan></text>
<text x="275.00" y="89.00" font-size="6.2" textLength="27.5" lengthAdjust="spacingAndGlyphs">FLT3<tspan font-size="3.72" dy="-2.36">wt/ITD</tspan></text>
<clipPath id="cE00"><rect x="316.40" y="25.10" width="40.8" height="37.0"/></clipPath><g clip-path="url(#cE00)"><g filter="url(#grainE)"><polygon points="316.4,49.1 325.4,48.6 333.4,47.6 340.4,43.6 347.4,39.6 352.9,36.6 354.4,38.6 348.4,44.1 341.4,49.6 338.4,62.1 316.4,62.1" fill="#7c7c7c"/><ellipse cx="325.4" cy="56.1" rx="6.5" ry="3.6" fill="#a0a0a0"/><path d="M316.4,49.6 325.4,48.9 333.4,47.9 340.4,43.9 347.4,39.9 352.9,37.1 M353.9,38.9 347.9,44.6 340.9,50.1 337.9,62.1" fill="none" stroke="#3a3a3a" stroke-width="2.0"/></g></g>
<rect x="316.40" y="25.10" width="40.80" height="37.00" fill="none" stroke="#bdbdbd" stroke-width="0.6"/>
<line x1="314.80" y1="26.10" x2="316.40" y2="26.10" stroke="#bbb" stroke-width="0.5"/>
<text x="314.20" y="26.70" font-size="2.6" text-anchor="end" class="tk">10</text>
<line x1="316.40" y1="62.10" x2="316.40" y2="63.30" stroke="#bbb" stroke-width="0.5"/>
<text x="316.40" y="65.70" font-size="2.6" text-anchor="middle" class="tk">10</text>
<line x1="314.80" y1="35.10" x2="316.40" y2="35.10" stroke="#bbb" stroke-width="0.5"/>
<text x="314.20" y="35.70" font-size="2.6" text-anchor="end" class="tk">10</text>
<line x1="326.60" y1="62.10" x2="326.60" y2="63.30" stroke="#bbb" stroke-width="0.5"/>
<text x="326.60" y="65.70" font-size="2.6" text-anchor="middle" class="tk">10</text>
<line x1="314.80" y1="44.10" x2="316.40" y2="44.10" stroke="#bbb" stroke-width="0.5"/>
<text x="314.20" y="44.70" font-size="2.6" text-anchor="end" class="tk">10</text>
<line x1="336.80" y1="62.10" x2="336.80" y2="63.30" stroke="#bbb" stroke-width="0.5"/>
<text x="336.80" y="65.70" font-size="2.6" text-anchor="middle" class="tk">10</text>
<line x1="314.80" y1="53.10" x2="316.40" y2="53.10" stroke="#bbb" stroke-width="0.5"/>
<text x="314.20" y="53.70" font-size="2.6" text-anchor="end" class="tk">10</text>
<line x1="347.00" y1="62.10" x2="347.00" y2="63.30" stroke="#bbb" stroke-width="0.5"/>
<text x="347.00" y="65.70" font-size="2.6" text-anchor="middle" class="tk">10</text>
<line x1="314.80" y1="62.10" x2="316.40" y2="62.10" stroke="#bbb" stroke-width="0.5"/>
<text x="314.20" y="62.70" font-size="2.6" text-anchor="end" class="tk">10</text>
<line x1="357.20" y1="62.10" x2="357.20" y2="63.30" stroke="#bbb" stroke-width="0.5"/>
<text x="357.20" y="65.70" font-size="2.6" text-anchor="middle" class="tk">10</text>
<rect x="333.60" y="34.40" width="23.00" height="16.60" fill="none" stroke="#c0c0c0" stroke-width="0.6"/>
<rect x="333.60" y="51.30" width="23.00" height="10.40" fill="none" stroke="#c0c0c0" stroke-width="0.6"/>
<text x="338.50" y="44.40" font-size="6.8">11.60</text>
<text x="338.40" y="59.40" font-size="6.8">1.16</text>
<clipPath id="cE01"><rect x="366.10" y="25.10" width="40.8" height="37.0"/></clipPath><g clip-path="url(#cE01)"><g filter="url(#grainE)"><polygon points="366.1,50.1 374.1,49.6 380.1,48.6 386.1,44.1 392.1,39.1 397.1,35.6 399.1,37.6 394.1,43.1 388.1,50.1 385.1,62.1 366.1,62.1" fill="#7c7c7c"/><ellipse cx="374.1" cy="56.1" rx="6" ry="3.8" fill="#a0a0a0"/><path d="M366.1,50.4 374.1,49.9 380.1,48.9 386.1,44.4 392.1,39.4 397.1,36.1 M398.6,37.9 393.6,43.6 387.6,50.6 384.6,62.1" fill="none" stroke="#3a3a3a" stroke-width="2.0"/></g></g>
<rect x="366.10" y="25.10" width="40.80" height="37.00" fill="none" stroke="#bdbdbd" stroke-width="0.6"/>
<line x1="364.50" y1="26.10" x2="366.10" y2="26.10" stroke="#bbb" stroke-width="0.5"/>
<text x="363.90" y="26.70" font-size="2.6" text-anchor="end" class="tk">10</text>
<line x1="366.10" y1="62.10" x2="366.10" y2="63.30" stroke="#bbb" stroke-width="0.5"/>
<text x="366.10" y="65.70" font-size="2.6" text-anchor="middle" class="tk">10</text>
<line x1="364.50" y1="35.10" x2="366.10" y2="35.10" stroke="#bbb" stroke-width="0.5"/>
<text x="363.90" y="35.70" font-size="2.6" text-anchor="end" class="tk">10</text>
<line x1="376.30" y1="62.10" x2="376.30" y2="63.30" stroke="#bbb" stroke-width="0.5"/>
<text x="376.30" y="65.70" font-size="2.6" text-anchor="middle" class="tk">10</text>
<line x1="364.50" y1="44.10" x2="366.10" y2="44.10" stroke="#bbb" stroke-width="0.5"/>
<text x="363.90" y="44.70" font-size="2.6" text-anchor="end" class="tk">10</text>
<line x1="386.50" y1="62.10" x2="386.50" y2="63.30" stroke="#bbb" stroke-width="0.5"/>
<text x="386.50" y="65.70" font-size="2.6" text-anchor="middle" class="tk">10</text>
<line x1="364.50" y1="53.10" x2="366.10" y2="53.10" stroke="#bbb" stroke-width="0.5"/>
<text x="363.90" y="53.70" font-size="2.6" text-anchor="end" class="tk">10</text>
<line x1="396.70" y1="62.10" x2="396.70" y2="63.30" stroke="#bbb" stroke-width="0.5"/>
<text x="396.70" y="65.70" font-size="2.6" text-anchor="middle" class="tk">10</text>
<line x1="364.50" y1="62.10" x2="366.10" y2="62.10" stroke="#bbb" stroke-width="0.5"/>
<text x="363.90" y="62.70" font-size="2.6" text-anchor="end" class="tk">10</text>
<line x1="406.90" y1="62.10" x2="406.90" y2="63.30" stroke="#bbb" stroke-width="0.5"/>
<text x="406.90" y="65.70" font-size="2.6" text-anchor="middle" class="tk">10</text>
<rect x="383.30" y="34.40" width="23.00" height="16.60" fill="none" stroke="#c0c0c0" stroke-width="0.6"/>
<rect x="383.30" y="51.30" width="23.00" height="10.40" fill="none" stroke="#c0c0c0" stroke-width="0.6"/>
<text x="385.60" y="44.50" font-size="6.8">9.57</text>
<text x="385.60" y="59.70" font-size="6.8">1.03</text>
<clipPath id="cE10"><rect x="316.40" y="71.50" width="40.8" height="37.0"/></clipPath><g clip-path="url(#cE10)"><g filter="url(#grainE)"><polygon points="316.4,95.7 325.4,94.0 334.4,91.6 340.4,91.5 345.4,92.0 349.4,93.5 351.4,97.5 351.0,108.5 316.4,108.5" fill="#7c7c7c"/><ellipse cx="327.4" cy="102.0" rx="8" ry="4.2" fill="#a0a0a0"/><path d="M316.4,96.0 325.4,94.3 334.4,91.9 340.4,91.8 345.4,92.3 349.4,93.8 M350.9,97.5 350.7,108.5" fill="none" stroke="#3a3a3a" stroke-width="2.0"/></g></g>
<rect x="316.40" y="71.50" width="40.80" height="37.00" fill="none" stroke="#bdbdbd" stroke-width="0.6"/>
<line x1="314.80" y1="72.50" x2="316.40" y2="72.50" stroke="#bbb" stroke-width="0.5"/>
<text x="314.20" y="73.10" font-size="2.6" text-anchor="end" class="tk">10</text>
<line x1="316.40" y1="108.50" x2="316.40" y2="109.70" stroke="#bbb" stroke-width="0.5"/>
<text x="316.40" y="112.10" font-size="2.6" text-anchor="middle" class="tk">10</text>
<line x1="314.80" y1="81.50" x2="316.40" y2="81.50" stroke="#bbb" stroke-width="0.5"/>
<text x="314.20" y="82.10" font-size="2.6" text-anchor="end" class="tk">10</text>
<line x1="326.60" y1="108.50" x2="326.60" y2="109.70" stroke="#bbb" stroke-width="0.5"/>
<text x="326.60" y="112.10" font-size="2.6" text-anchor="middle" class="tk">10</text>
<line x1="314.80" y1="90.50" x2="316.40" y2="90.50" stroke="#bbb" stroke-width="0.5"/>
<text x="314.20" y="91.10" font-size="2.6" text-anchor="end" class="tk">10</text>
<line x1="336.80" y1="108.50" x2="336.80" y2="109.70" stroke="#bbb" stroke-width="0.5"/>
<text x="336.80" y="112.10" font-size="2.6" text-anchor="middle" class="tk">10</text>
<line x1="314.80" y1="99.50" x2="316.40" y2="99.50" stroke="#bbb" stroke-width="0.5"/>
<text x="314.20" y="100.10" font-size="2.6" text-anchor="end" class="tk">10</text>
<line x1="347.00" y1="108.50" x2="347.00" y2="109.70" stroke="#bbb" stroke-width="0.5"/>
<text x="347.00" y="112.10" font-size="2.6" text-anchor="middle" class="tk">10</text>
<line x1="314.80" y1="108.50" x2="316.40" y2="108.50" stroke="#bbb" stroke-width="0.5"/>
<text x="314.20" y="109.10" font-size="2.6" text-anchor="end" class="tk">10</text>
<line x1="357.20" y1="108.50" x2="357.20" y2="109.70" stroke="#bbb" stroke-width="0.5"/>
<text x="357.20" y="112.10" font-size="2.6" text-anchor="middle" class="tk">10</text>
<rect x="333.60" y="80.80" width="23.00" height="16.60" fill="none" stroke="#c0c0c0" stroke-width="0.6"/>
<rect x="333.60" y="97.70" width="23.00" height="10.40" fill="none" stroke="#c0c0c0" stroke-width="0.6"/>
<text x="339.50" y="89.60" font-size="6.8">4.66</text>
<text x="339.70" y="104.90" font-size="6.8">4.13</text>
<clipPath id="cE11"><rect x="366.10" y="71.50" width="40.8" height="37.0"/></clipPath><g clip-path="url(#cE11)"><g filter="url(#grainE)"><polygon points="366.1,100.3 375.1,98.5 383.1,95.7 388.1,93.0 393.1,91.0 396.1,90.5 397.1,92.5 390.1,96.0 384.6,97.5 383.9,108.5 366.1,108.5" fill="#7c7c7c"/><ellipse cx="374.1" cy="104.0" rx="6" ry="3.2" fill="#a0a0a0"/><path d="M366.1,100.5 375.1,98.8 383.1,96.0 388.1,93.3 393.1,91.3 396.1,90.8 M383.7,96.5 383.5,108.5" fill="none" stroke="#3a3a3a" stroke-width="2.0"/></g></g>
<rect x="366.10" y="71.50" width="40.80" height="37.00" fill="none" stroke="#bdbdbd" stroke-width="0.6"/>
<line x1="364.50" y1="72.50" x2="366.10" y2="72.50" stroke="#bbb" stroke-width="0.5"/>
<text x="363.90" y="73.10" font-size="2.6" text-anchor="end" class="tk">10</text>
<line x1="366.10" y1="108.50" x2="366.10" y2="109.70" stroke="#bbb" stroke-width="0.5"/>
<text x="366.10" y="112.10" font-size="2.6" text-anchor="middle" class="tk">10</text>
<line x1="364.50" y1="81.50" x2="366.10" y2="81.50" stroke="#bbb" stroke-width="0.5"/>
<text x="363.90" y="82.10" font-size="2.6" text-anchor="end" class="tk">10</text>
<line x1="376.30" y1="108.50" x2="376.30" y2="109.70" stroke="#bbb" stroke-width="0.5"/>
<text x="376.30" y="112.10" font-size="2.6" text-anchor="middle" class="tk">10</text>
<line x1="364.50" y1="90.50" x2="366.10" y2="90.50" stroke="#bbb" stroke-width="0.5"/>
<text x="363.90" y="91.10" font-size="2.6" text-anchor="end" class="tk">10</text>
<line x1="386.50" y1="108.50" x2="386.50" y2="109.70" stroke="#bbb" stroke-width="0.5"/>
<text x="386.50" y="112.10" font-size="2.6" text-anchor="middle" class="tk">10</text>
<line x1="364.50" y1="99.50" x2="366.10" y2="99.50" stroke="#bbb" stroke-width="0.5"/>
<text x="363.90" y="100.10" font-size="2.6" text-anchor="end" class="tk">10</text>
<line x1="396.70" y1="108.50" x2="396.70" y2="109.70" stroke="#bbb" stroke-width="0.5"/>
<text x="396.70" y="112.10" font-size="2.6" text-anchor="middle" class="tk">10</text>
<line x1="364.50" y1="108.50" x2="366.10" y2="108.50" stroke="#bbb" stroke-width="0.5"/>
<text x="363.90" y="109.10" font-size="2.6" text-anchor="end" class="tk">10</text>
<line x1="406.90" y1="108.50" x2="406.90" y2="109.70" stroke="#bbb" stroke-width="0.5"/>
<text x="406.90" y="112.10" font-size="2.6" text-anchor="middle" class="tk">10</text>
<rect x="383.30" y="80.80" width="23.00" height="16.60" fill="none" stroke="#c0c0c0" stroke-width="0.6"/>
<rect x="383.30" y="97.70" width="23.00" height="10.40" fill="none" stroke="#c0c0c0" stroke-width="0.6"/>
<text x="384.40" y="89.00" font-size="6.8" textLength="19.3" lengthAdjust="spacingAndGlyphs">12.40</text>
<text x="386.80" y="105.50" font-size="6.8">1.21</text>
<line x1="308.20" y1="78.00" x2="308.20" y2="95.30" stroke="#000" stroke-width="0.7"/>
<circle cx="308.2" cy="76.9" r="1.1" fill="#000"/>
<text x="310.40" y="106.80" font-size="6.6" text-anchor="middle" textLength="15.5" lengthAdjust="spacingAndGlyphs" transform="rotate(-90 310.4 106.8)">CD19</text>
<text x="306.50" y="122.70" font-size="6.4" textLength="15.5" lengthAdjust="spacingAndGlyphs">B220</text>
<line x1="323.00" y1="119.80" x2="347.60" y2="119.80" stroke="#000" stroke-width="0.7"/>
<circle cx="348.3" cy="119.8" r="1" fill="#000"/>
<line x1="442.70" y1="9.50" x2="442.70" y2="48.60" stroke="#b4b4b4" stroke-width="0.8"/>
<line x1="442.70" y1="48.60" x2="518.60" y2="48.60" stroke="#b4b4b4" stroke-width="0.8"/>
<text x="441.00" y="51.20" font-size="6.6" text-anchor="end">0</text>
<text x="441.00" y="38.84" font-size="6.6" text-anchor="end">4</text>
<text x="441.00" y="26.48" font-size="6.6" text-anchor="end">8</text>
<text x="441.00" y="14.12" font-size="6.6" text-anchor="end">12</text>
<rect x="449.40" y="43.50" width="10.10" height="5.10" fill="#fff" stroke="#000" stroke-width="0.8"/>
<rect x="459.50" y="42.10" width="11.20" height="6.50" fill="#6e6e6e" stroke="#000" stroke-width="0.8"/>
<rect x="487.20" y="27.30" width="10.10" height="21.30" fill="#fff" stroke="#000" stroke-width="0.8"/>
<rect x="497.30" y="42.50" width="11.20" height="6.10" fill="#6e6e6e" stroke="#000" stroke-width="0.8"/>
<line x1="454.50" y1="42.80" x2="454.50" y2="44.20" stroke="#000" stroke-width="0.7"/>
<circle cx="454.50" cy="43.30" r="0.9" fill="#000"/>
<line x1="465.10" y1="39.50" x2="465.10" y2="44.50" stroke="#000" stroke-width="0.7"/>
<circle cx="465.10" cy="42.00" r="0.9" fill="#000"/>
<line x1="492.30" y1="18.80" x2="492.30" y2="38.40" stroke="#000" stroke-width="0.7"/>
<circle cx="492.30" cy="27.40" r="0.9" fill="#000"/>
<line x1="502.90" y1="41.80" x2="502.90" y2="43.20" stroke="#000" stroke-width="0.7"/>
<text x="449.00" y="56.10" font-size="6.4" textLength="26.2" lengthAdjust="spacingAndGlyphs">FLT3<tspan font-size="3.84" dy="-2.43">wt/wt</tspan></text>
<text x="485.80" y="56.10" font-size="6.4" textLength="26.8" lengthAdjust="spacingAndGlyphs">FLT3<tspan font-size="3.84" dy="-2.43">wt/ITD</tspan></text>
<text x="462.60" y="63.70" font-size="6.8" textLength="38.8" lengthAdjust="spacingAndGlyphs">B220+CD19-</text>
<rect x="444.30" y="11.30" width="39.50" height="13.40" fill="#fff" stroke="#b0b0b0" stroke-width="0.6"/>
<circle cx="447.3" cy="15.8" r="0.9" fill="#fff" stroke="#bbb" stroke-width="0.4"/>
<circle cx="447.3" cy="21.5" r="0.95" fill="#222"/>
<text x="449.60" y="18.00" font-size="6.8" textLength="22.1" lengthAdjust="spacingAndGlyphs">Vehicle</text>
<text x="449.60" y="23.80" font-size="6.8" textLength="29.8" lengthAdjust="spacingAndGlyphs">Sorafenib</text>
<text x="493.90" y="23.70" font-size="6.6" textLength="21.1" lengthAdjust="spacingAndGlyphs">P=0.05</text>
<polyline points="492.30,16.10 492.30,13.50 502.40,13.50 502.40,16.10" fill="none" stroke="#999" stroke-width="0.6"/>
<text x="430.50" y="30.50" font-size="6.4" text-anchor="middle" textLength="43" lengthAdjust="spacingAndGlyphs" transform="rotate(-90 430.5 30.5)">% in whole BM</text>
<line x1="442.60" y1="71.00" x2="442.60" y2="110.10" stroke="#b4b4b4" stroke-width="0.8"/>
<line x1="442.60" y1="110.10" x2="518.60" y2="110.10" stroke="#b4b4b4" stroke-width="0.8"/>
<text x="440.90" y="112.40" font-size="6.6" text-anchor="end">0</text>
<text x="440.90" y="94.80" font-size="6.6" text-anchor="end">10</text>
<text x="440.90" y="77.20" font-size="6.6" text-anchor="end">20</text>
<rect x="450.80" y="87.00" width="10.50" height="23.10" fill="#fff" stroke="#000" stroke-width="0.8"/>
<rect x="461.30" y="87.60" width="10.80" height="22.50" fill="#6e6e6e" stroke="#000" stroke-width="0.8"/>
<rect x="488.60" y="100.10" width="10.40" height="10.00" fill="#fff" stroke="#000" stroke-width="0.8"/>
<rect x="499.00" y="91.80" width="11.60" height="18.30" fill="#6e6e6e" stroke="#000" stroke-width="0.8"/>
<line x1="456.30" y1="84.30" x2="456.30" y2="90.90" stroke="#000" stroke-width="0.7"/>
<circle cx="456.30" cy="87.50" r="0.9" fill="#000"/>
<line x1="466.60" y1="80.00" x2="466.60" y2="103.50" stroke="#000" stroke-width="0.7"/>
<line x1="493.70" y1="97.50" x2="493.70" y2="104.50" stroke="#000" stroke-width="0.7"/>
<circle cx="493.70" cy="100.10" r="0.9" fill="#000"/>
<line x1="504.00" y1="87.00" x2="504.00" y2="96.80" stroke="#000" stroke-width="0.7"/>
<circle cx="504.00" cy="91.80" r="0.9" fill="#000"/>
<text x="450.80" y="118.80" font-size="6.2" textLength="26.5" lengthAdjust="spacingAndGlyphs">FLT3<tspan font-size="3.72" dy="-2.36">wt/wt</tspan></text>
<text x="488.60" y="119.20" font-size="6.2" textLength="28.5" lengthAdjust="spacingAndGlyphs">FLT3<tspan font-size="3.72" dy="-2.36">wt/ITD</tspan></text>
<text x="462.90" y="127.50" font-size="6.8" textLength="40" lengthAdjust="spacingAndGlyphs">B220+CD19+</text>
<rect x="478.00" y="70.60" width="41.10" height="13.10" fill="#fff" stroke="#b0b0b0" stroke-width="0.6"/>
<circle cx="481.4" cy="75.0" r="0.9" fill="#fff" stroke="#bbb" stroke-width="0.4"/>
<circle cx="481.4" cy="80.6" r="0.95" fill="#222"/>
<text x="484.10" y="77.10" font-size="6.8" textLength="22.8" lengthAdjust="spacingAndGlyphs">Vehicle</text>
<text x="484.10" y="82.70" font-size="6.8" textLength="30.9" lengthAdjust="spacingAndGlyphs">Sorafenib</text>
<text x="478.20" y="91.80" font-size="6.6" textLength="23.2" lengthAdjust="spacingAndGlyphs">P=0.018</text>
<polyline points="491.50,87.60 491.50,85.80 503.50,85.80 503.50,87.60" fill="none" stroke="#999" stroke-width="0.6"/>
<text x="431.40" y="91.40" font-size="6.4" text-anchor="middle" textLength="44" lengthAdjust="spacingAndGlyphs" transform="rotate(-90 431.4 91.4)">% in whole BM</text>
<line x1="331.60" y1="151.50" x2="331.60" y2="209.60" stroke="#b4b4b4" stroke-width="0.8"/>
<line x1="331.60" y1="209.60" x2="441.00" y2="209.60" stroke="#b4b4b4" stroke-width="0.8"/>
<text x="327.40" y="213.30" font-size="6.6" text-anchor="end">0</text>
<text x="327.40" y="201.58" font-size="6.6" text-anchor="end">1.0</text>
<text x="327.40" y="189.86" font-size="6.6" text-anchor="end">2.0</text>
<text x="327.40" y="178.14" font-size="6.6" text-anchor="end">3.0</text>
<text x="327.40" y="166.42" font-size="6.6" text-anchor="end">4.0</text>
<text x="327.40" y="154.70" font-size="6.6" text-anchor="end">5.0</text>
<rect x="335.50" y="198.10" width="6.80" height="11.50" fill="#fff" stroke="#000" stroke-width="0.8"/>
<line x1="338.90" y1="195.60" x2="338.90" y2="201.30" stroke="#000" stroke-width="0.7"/>
<rect x="342.30" y="194.00" width="6.80" height="15.60" fill="url(#hl)" stroke="#000" stroke-width="0.8"/>
<line x1="345.70" y1="193.30" x2="345.70" y2="194.50" stroke="#000" stroke-width="0.7"/>
<rect x="349.10" y="206.30" width="6.80" height="3.30" fill="#6e6e6e" stroke="#000" stroke-width="0.8"/>
<rect x="355.90" y="196.90" width="6.80" height="12.70" fill="url(#hd)" stroke="#000" stroke-width="0.8"/>
<line x1="359.30" y1="196.30" x2="359.30" y2="197.30" stroke="#000" stroke-width="0.7"/>
<rect x="372.40" y="198.30" width="7.00" height="11.30" fill="#fff" stroke="#000" stroke-width="0.8"/>
<line x1="375.90" y1="194.00" x2="375.90" y2="200.50" stroke="#000" stroke-width="0.7"/>
<rect x="379.40" y="191.00" width="7.00" height="18.60" fill="url(#hl)" stroke="#000" stroke-width="0.8"/>
<line x1="382.90" y1="189.50" x2="382.90" y2="190.50" stroke="#000" stroke-width="0.7"/>
<rect x="386.40" y="161.00" width="7.00" height="48.60" fill="#6e6e6e" stroke="#000" stroke-width="0.8"/>
<line x1="389.90" y1="158.30" x2="389.90" y2="161.00" stroke="#000" stroke-width="0.7"/>
<rect x="393.40" y="167.60" width="7.00" height="42.00" fill="url(#hd)" stroke="#000" stroke-width="0.8"/>
<line x1="396.90" y1="157.50" x2="396.90" y2="178.00" stroke="#000" stroke-width="0.7"/>
<rect x="410.30" y="198.40" width="6.85" height="11.20" fill="#fff" stroke="#000" stroke-width="0.8"/>
<line x1="413.73" y1="184.00" x2="413.73" y2="204.00" stroke="#000" stroke-width="0.7"/>
<rect x="417.15" y="186.00" width="6.85" height="23.60" fill="url(#hl)" stroke="#000" stroke-width="0.8"/>
<line x1="420.58" y1="176.00" x2="420.58" y2="194.00" stroke="#000" stroke-width="0.7"/>
<rect x="424.00" y="184.60" width="6.85" height="25.00" fill="#6e6e6e" stroke="#000" stroke-width="0.8"/>
<line x1="427.43" y1="183.80" x2="427.43" y2="185.50" stroke="#000" stroke-width="0.7"/>
<rect x="430.85" y="187.40" width="6.85" height="22.20" fill="url(#hd)" stroke="#000" stroke-width="0.8"/>
<line x1="434.28" y1="184.50" x2="434.28" y2="190.00" stroke="#000" stroke-width="0.7"/>
<text x="337.50" y="220.20" font-size="6.6" textLength="15" lengthAdjust="spacingAndGlyphs">Ku86</text>
<text x="372.00" y="220.20" font-size="6.6" textLength="20" lengthAdjust="spacingAndGlyphs">PARP1</text>
<text x="411.20" y="220.20" font-size="6.6" textLength="20.8" lengthAdjust="spacingAndGlyphs">Lig III&#945;</text>
<text x="308.70" y="190.50" font-size="6.3" text-anchor="middle" textLength="45" lengthAdjust="spacingAndGlyphs" transform="rotate(-90 308.7 190.5)">Fold change in</text>
<text x="314.70" y="183.50" font-size="6.3" text-anchor="middle" textLength="58" lengthAdjust="spacingAndGlyphs" transform="rotate(-90 314.7 183.5)">relative expression</text>
<text x="331.00" y="164.30" font-size="6.6" textLength="24.2" lengthAdjust="spacingAndGlyphs">P&lt;0.001</text>
<polyline points="334.40,156.40 334.40,154.40 346.40,154.40 346.40,156.40" fill="none" stroke="#777" stroke-width="0.6"/>
<text x="343.60" y="180.70" font-size="6.6" textLength="22.6" lengthAdjust="spacingAndGlyphs">P&lt;0.001</text>
<polyline points="352.00,180.90 352.00,182.50 360.00,182.50 360.00,180.90" fill="none" stroke="#777" stroke-width="0.6"/>
<text x="331.40" y="190.10" font-size="6.6" textLength="23.3" lengthAdjust="spacingAndGlyphs">P=0.009</text>
<polyline points="338.60,192.30 338.60,190.80 353.60,190.80 353.60,192.30" fill="none" stroke="#777" stroke-width="0.6"/>
<text x="360.70" y="162.70" font-size="6.6" textLength="23" lengthAdjust="spacingAndGlyphs">P&lt;0.001</text>
<polyline points="372.80,156.20 372.80,154.20 389.50,154.20 389.50,156.20" fill="none" stroke="#777" stroke-width="0.6"/>
<polyline points="389.50,154.20 389.50,152.20 397.00,152.20 397.00,154.20" fill="none" stroke="#777" stroke-width="0.6"/>
<text x="399.40" y="157.30" font-size="6.6" textLength="24" lengthAdjust="spacingAndGlyphs">P=0.065</text>
<rect x="448.50" y="181.20" width="65.30" height="28.00" fill="#fff" stroke="#999" stroke-width="0.6"/>
<rect x="450.00" y="183.40" width="2.80" height="3.60" fill="#fff" stroke="#000" stroke-width="0.6"/>
<text x="454.00" y="187.60" font-size="5.6" textLength="22.5" lengthAdjust="spacingAndGlyphs">FLT3<tspan font-size="3.30" dy="-2.00">wt/wt</tspan></text>
<text x="477.70" y="187.60" font-size="6.4" textLength="22.3" lengthAdjust="spacingAndGlyphs">vehicle</text>
<rect x="450.00" y="189.85" width="2.80" height="3.60" fill="url(#hl)" stroke="#000" stroke-width="0.6"/>
<text x="454.00" y="194.05" font-size="5.6" textLength="22.5" lengthAdjust="spacingAndGlyphs">FLT3<tspan font-size="3.30" dy="-2.00">wt/wt</tspan></text>
<text x="477.70" y="194.05" font-size="6.4" textLength="30" lengthAdjust="spacingAndGlyphs">Sorafenib</text>
<rect x="450.00" y="196.30" width="2.80" height="3.60" fill="#6e6e6e" stroke="#000" stroke-width="0.6"/>
<text x="454.00" y="200.50" font-size="5.6" textLength="25.5" lengthAdjust="spacingAndGlyphs">FLT3<tspan font-size="3.30" dy="-2.00">wt/ITD</tspan></text>
<text x="481.00" y="200.50" font-size="6.4" textLength="22.3" lengthAdjust="spacingAndGlyphs">vehicle</text>
<rect x="450.00" y="202.75" width="2.80" height="3.60" fill="url(#hd)" stroke="#000" stroke-width="0.6"/>
<text x="454.00" y="206.95" font-size="5.6" textLength="25.5" lengthAdjust="spacingAndGlyphs">FLT3<tspan font-size="3.30" dy="-2.00">wt/ITD</tspan></text>
<text x="481.00" y="206.95" font-size="6.4" textLength="30" lengthAdjust="spacingAndGlyphs">Sorafenib</text>
<text x="301.40" y="249.70" font-size="6.6" textLength="29.7" lengthAdjust="spacingAndGlyphs">Sorafenib</text>
<text x="335.20" y="242.00" font-size="6.6" textLength="27.5" lengthAdjust="spacingAndGlyphs">FLT3<tspan font-size="4.20" dy="-2.51">wt/wt</tspan></text>
<text x="365.20" y="241.50" font-size="6.6" textLength="28.8" lengthAdjust="spacingAndGlyphs">FLT3<tspan font-size="4.20" dy="-2.51">wt/ITD</tspan></text>
<line x1="335.20" y1="243.40" x2="361.20" y2="243.40" stroke="#777" stroke-width="0.6"/>
<line x1="365.20" y1="242.90" x2="393.60" y2="242.90" stroke="#777" stroke-width="0.6"/>
<text x="340.30" y="249.60" font-size="6.2" text-anchor="middle">-</text>
<text x="356.00" y="249.60" font-size="6.2" text-anchor="middle">+</text>
<text x="369.90" y="249.60" font-size="6.2" text-anchor="middle">-</text>
<text x="384.10" y="249.60" font-size="6.2" text-anchor="middle">+</text>
<rect x="335.2" y="250.3" width="55.6" height="7.6" fill="#a4a4a4" filter="url(#blur05)"/>
<rect x="335.9" y="252.4" width="10.40" height="4.20" rx="2.5" fill="#2a2a2a" filter="url(#blur05)"/>
<rect x="350.3" y="253.0" width="10.40" height="4.00" rx="2.5" fill="#3c3c3c" filter="url(#blur05)"/>
<rect x="363.6" y="253.6" width="12.10" height="3.40" rx="2.5" fill="#5e5e5e" filter="url(#blur05)"/>
<rect x="379.1" y="252.2" width="10.50" height="5.00" rx="2.5" fill="#141414" filter="url(#blur05)"/>
<rect x="335.2" y="266.5" width="55.6" height="9.2" fill="#8e8e8e" filter="url(#blur05)"/>
<rect x="336.0" y="269.3" width="10.50" height="4.40" rx="2.5" fill="#202020" filter="url(#blur05)"/>
<rect x="349.2" y="267.8" width="12.10" height="7.20" rx="2.5" fill="#0e0e0e" filter="url(#blur05)"/>
<rect x="363.2" y="268.2" width="12.20" height="6.80" rx="2.5" fill="#161616" filter="url(#blur05)"/>
<rect x="378.2" y="268.3" width="11.40" height="5.90" rx="2.5" fill="#1a1a1a" filter="url(#blur05)"/>
<rect x="335.2" y="285.0" width="55.6" height="8.6" fill="#d8d8d8" filter="url(#blur05)"/>
<rect x="335.9" y="286.5" width="12.10" height="4.50" rx="2.5" fill="#111" filter="url(#blur05)"/>
<rect x="350.9" y="287.0" width="10.90" height="3.60" rx="2.5" fill="#141414" filter="url(#blur05)"/>
<rect x="364.1" y="286.4" width="11.60" height="5.20" rx="2.5" fill="#0e0e0e" filter="url(#blur05)"/>
<rect x="378.6" y="285.8" width="10.90" height="7.00" rx="2.5" fill="#080808" filter="url(#blur05)"/>
<text x="340.20" y="264.30" font-size="6.4" text-anchor="middle" style="stroke:none">1.0</text>
<text x="355.20" y="264.30" font-size="6.4" text-anchor="middle" style="stroke:none">1.0</text>
<text x="369.70" y="264.30" font-size="6.4" text-anchor="middle" style="stroke:none">0.3</text>
<text x="384.50" y="264.30" font-size="6.4" text-anchor="middle" style="stroke:none">1.4</text>
<text x="340.20" y="283.00" font-size="6.4" text-anchor="middle" style="stroke:none">1.0</text>
<text x="355.20" y="283.00" font-size="6.4" text-anchor="middle" style="stroke:none">2.3</text>
<text x="369.70" y="283.00" font-size="6.4" text-anchor="middle" style="stroke:none">2.4</text>
<text x="384.50" y="283.00" font-size="6.4" text-anchor="middle" style="stroke:none">1.2</text>
<text x="391.00" y="258.10" font-size="6.6" textLength="18.3" lengthAdjust="spacingAndGlyphs">-Ku86</text>
<text x="391.00" y="273.40" font-size="6.6" textLength="22.5" lengthAdjust="spacingAndGlyphs">-PARP1</text>
<text x="391.00" y="291.70" font-size="6.6" textLength="26.7" lengthAdjust="spacingAndGlyphs">-LaminB</text>
</svg>
</body></html>
